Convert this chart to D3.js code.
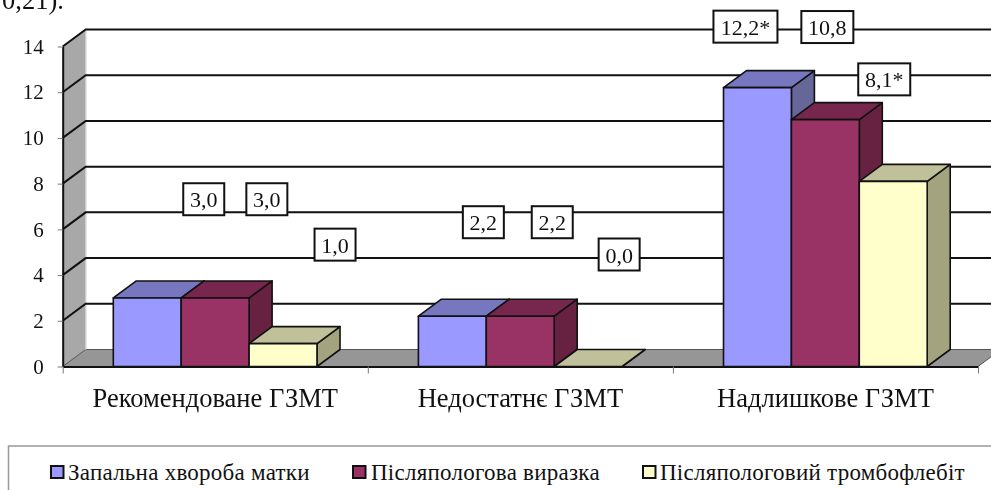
<!DOCTYPE html>
<html>
<head>
<meta charset="utf-8">
<script src="https://cdn.jsdelivr.net/npm/d3@7"></script>
<style>
  html, body { margin: 0; padding: 0; background: #fff; overflow: hidden; }
  svg { display: block; filter: blur(0.45px); }
  text { font-family: "Liberation Serif", serif; fill: #111; }
</style>
</head>
<body>
<div id="main"></div>
<script>
// dataset
const categories = ['Рекомендоване ГЗМТ', 'Недостатнє ГЗМТ', 'Надлишкове ГЗМТ'];
const seriesNames = ['Запальна хвороба матки', 'Післяпологова виразка', 'Післяпологовий тромбофлебіт'];
const inflammation = [3.0, 2.2, 12.2];
const ulcer = [3.0, 2.2, 10.8];
const thrombophlebitis = [1.0, 0.0, 8.1];
const seriesValues = [inflammation, ulcer, thrombophlebitis];
const valueLabels = [
  ['3,0', '2,2', '12,2*'],
  ['3,0', '2,2', '10,8'],
  ['1,0', '0,0', '8,1*']
];
const yTicks = [0, 2, 4, 6, 8, 10, 12, 14];
// dataset

// the data labels sit away from their bars, offsets from the bar top centre [series][category]
const labelDx = [[56.5, 31, -12], [51.7, 32, 2], [52, 31, -9]];
const labelDy = [[98.7, 94, 61], [98.7, 94, 92.6], [99, 112, 102]];

const width = 991;
const height = 490;
const plotLeft = 62.7, plotRight = 978, plotBottom = 366.5, plotTop = 46.5;
const depthX = 23, depthY = -17; // fake 3d offset

const colors = [
  { front: '#9999ff', top: '#7777bf', side: '#666699' },
  { front: '#993366', top: '#77264d', side: '#662240' },
  { front: '#ffffcc', top: '#c0c09a', side: '#a3a37f' }
];

const svg = d3.select('#main').append('svg')
  .attr('width', width)
  .attr('height', height);

const yScale = d3.scaleLinear().domain([0, 14]).range([plotBottom, plotTop]);
const xGroup = d3.scaleBand().domain(categories).range([plotLeft, plotRight]);
const xBar = d3.scaleBand().domain(seriesNames).range([50.6, xGroup.bandwidth() - 50.8]);
const xEdge = d3.scaleLinear().domain([0, categories.length]).range([plotLeft, plotRight]);

const poly = (pts) => pts.map((p) => p.join(',')).join(' ');

// piece of the sentence above the chart, cut by the crop
svg.append('text')
  .attr('x', 2)
  .attr('y', 8.5)
  .attr('font-size', 26.5)
  .text('0,21).');

// left wall and floor
svg.append('polygon')
  .attr('points', poly([[plotLeft, plotBottom], [plotLeft, plotTop], [plotLeft + depthX, plotTop + depthY], [plotLeft + depthX, plotBottom + depthY]]))
  .attr('fill', '#a8a8a8');
svg.append('polygon')
  .attr('points', poly([[plotLeft, plotBottom], [plotRight, plotBottom], [plotRight + depthX, plotBottom + depthY], [plotLeft + depthX, plotBottom + depthY]]))
  .attr('fill', '#969696')
  .attr('stroke', '#555')
  .attr('stroke-width', 1);
svg.append('line')
  .attr('x1', plotLeft + depthX).attr('x2', plotLeft + depthX)
  .attr('y1', plotTop + depthY).attr('y2', plotBottom + depthY)
  .attr('stroke', '#ccc').attr('stroke-width', 1.5);

// grid lines, run along the wall then the back
const grid = svg.append('g');
grid.selectAll('polyline')
  .data(yTicks.slice(1))
  .enter()
  .append('polyline')
  .attr('fill', 'none')
  .attr('stroke', '#111')
  .attr('stroke-width', 2)
  .attr('points', (d) => poly([
    [plotLeft, yScale(d)],
    [plotLeft + depthX, yScale(d) + depthY],
    [plotRight + depthX, yScale(d) + depthY]
  ]));

// axes
const yAxis = svg.append('g')
  .attr('transform', `translate(${plotLeft},0)`)
  .call(d3.axisLeft(yScale).tickValues(yTicks).tickSize(5).tickSizeOuter(0).tickPadding(14));
yAxis.selectAll('text').attr('font-size', 21).style('font-family', '"Liberation Serif", serif');
yAxis.selectAll('.tick line').attr('stroke', '#777');
yAxis.select('.domain').attr('stroke', '#111').attr('stroke-width', 2);

// bars, left to right so the next front covers the previous side
const groups = svg.selectAll('g.cat')
  .data(categories)
  .enter()
  .append('g')
  .attr('class', 'cat')
  .attr('transform', (c) => `translate(${xGroup(c)},0)`);

groups.each(function (c, ci) {
  const g = d3.select(this);
  seriesNames.forEach((name, si) => {
    const v = seriesValues[si][ci];
    const x0 = xBar(name);
    const x1 = x0 + xBar.bandwidth();
    const yTop = yScale(v);
    const col = colors[si];
    const bar = g.append('g')
      .attr('stroke', '#111')
      .attr('stroke-width', 1.6)
      .attr('stroke-linejoin', 'round');
    bar.append('polygon')
      .attr('fill', col.side)
      .attr('points', poly([[x1, plotBottom], [x1, yTop], [x1 + depthX, yTop + depthY], [x1 + depthX, plotBottom + depthY]]));
    bar.append('polygon')
      .attr('fill', col.top)
      .attr('points', poly([[x0, yTop], [x1, yTop], [x1 + depthX, yTop + depthY], [x0 + depthX, yTop + depthY]]));
    if (v > 0) {
      bar.append('rect')
        .attr('x', x0)
        .attr('y', yTop)
        .attr('width', xBar.bandwidth())
        .attr('height', plotBottom - yTop)
        .attr('fill', col.front);
    }
  });
});

// x axis: ticks at the group edges, labels in the middle of the group
const xTicks = svg.append('g')
  .attr('transform', `translate(0,${plotBottom})`)
  .call(d3.axisBottom(xEdge).ticks(categories.length).tickSize(7).tickSizeOuter(0).tickFormat(''));
xTicks.select('.domain').attr('stroke', '#111').attr('stroke-width', 2);
xTicks.selectAll('.tick line').attr('stroke', '#777');

const xLabels = svg.append('g')
  .attr('transform', `translate(0,${plotBottom})`)
  .call(d3.axisBottom(xGroup).tickSize(0).tickPadding(22));
xLabels.select('.domain').remove();
xLabels.selectAll('text').attr('font-size', 26.5).style('font-family', '"Liberation Serif", serif');

// value labels in boxes
groups.each(function (c, ci) {
  const g = d3.select(this);
  seriesNames.forEach((name, si) => {
    const cx = xBar(name) + xBar.bandwidth() / 2 + labelDx[si][ci];
    const cy = yScale(seriesValues[si][ci]) - labelDy[si][ci];
    const label = valueLabels[si][ci];
    const w = label.length > 4 ? 64 : (label.length > 3 ? 52 : 41);
    g.append('rect')
      .attr('x', cx - w / 2)
      .attr('y', cy - 16)
      .attr('width', w)
      .attr('height', 32)
      .attr('fill', '#fff')
      .attr('stroke', '#111')
      .attr('stroke-width', 2);
    g.append('text')
      .attr('x', cx)
      .attr('y', cy + 8)
      .attr('text-anchor', 'middle')
      .attr('font-size', 22)
      .text(label);
  });
});

// legend, box runs off the crop
svg.append('rect')
  .attr('x', 8.5)
  .attr('y', 446)
  .attr('width', 1000)
  .attr('height', 100)
  .attr('fill', '#fff')
  .attr('stroke', '#999')
  .attr('stroke-width', 1.5);

const legendSwatchX = [51, 353, 643];
const legendTextX = [68, 371, 660];
const legend = svg.selectAll('g.legend')
  .data(seriesNames)
  .enter()
  .append('g')
  .attr('class', 'legend');
legend.append('rect')
  .attr('x', (d, i) => legendSwatchX[i])
  .attr('y', 466)
  .attr('width', 12.5)
  .attr('height', 12)
  .attr('fill', (d, i) => colors[i].front)
  .attr('stroke', '#111')
  .attr('stroke-width', 2);
legend.append('text')
  .attr('x', (d, i) => legendTextX[i])
  .attr('y', 480)
  .attr('font-size', 23)
  .attr('letter-spacing', 0.25)
  .text((d) => d);
</script>
</body>
</html>
